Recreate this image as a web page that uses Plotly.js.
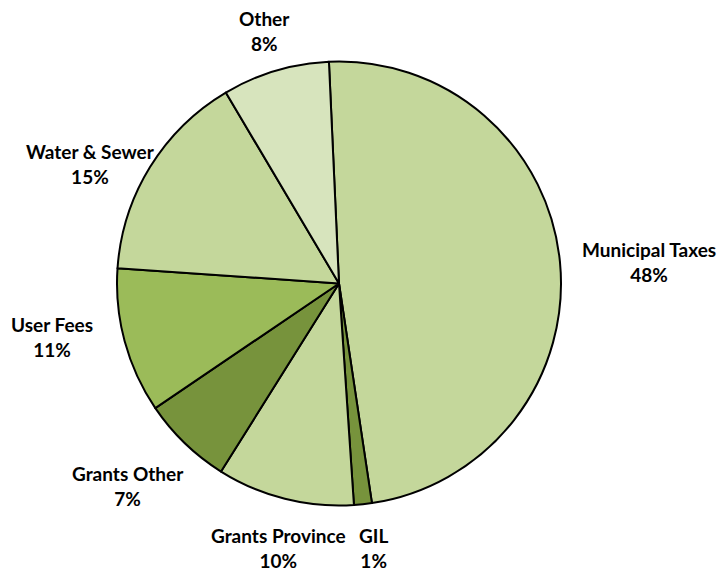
<!DOCTYPE html>
<html>
<head>
<meta charset="utf-8">
<script src="https://cdn.plot.ly/plotly-3.0.1.min.js"></script>
<style>html,body{margin:0;padding:0;background:#fff;}#chart{width:724px;height:575px;}</style>
</head>
<body>
<div id="chart"></div>
<script>
const labels = ["Municipal Taxes", "GIL", "Grants Province", "Grants Other", "User Fees", "Water & Sewer", "Other"];
const values = [48.4, 1.3, 10.0, 6.6, 10.6, 15.4, 7.8];
const colors = ["#C4D79B", "#77933C", "#C4D79B", "#77933C", "#9BBB59", "#C4D79B", "#D7E4BD"];

// label text centres in pixels (layout only)
const labelPos = [[649, 262], [374, 548], [278, 548], [128, 486], [52, 337], [90, 164], [264, 31]];

const W = 724, H = 575;
const total = values.reduce((a, b) => a + b, 0);
const annotations = labels.map((l, i) => ({
  x: labelPos[i][0] / W, y: 1 - labelPos[i][1] / H,
  xref: 'paper', yref: 'paper', xanchor: 'center', yanchor: 'middle',
  text: l + '<br>' + Math.round(values[i] / total * 100) + '%',
  showarrow: false,
  font: {family: 'Lato, "Open Sans", sans-serif', size: 19, color: '#000', weight: 'bold'}
}));

const cx = 339, cy = 283.5, r = 222;
Plotly.newPlot('chart', [{
  type: 'pie',
  labels: labels,
  values: values,
  sort: false,
  direction: 'clockwise',
  rotation: -2.6,
  marker: {colors: colors, line: {color: '#000', width: 2}},
  textinfo: 'none',
  hoverinfo: 'label+percent',
  showlegend: false,
  domain: {x: [(cx - r) / W, (cx + r) / W], y: [(H - cy - r) / H, (H - cy + r) / H]}
}], {
  width: W, height: H,
  margin: {l: 0, r: 0, t: 0, b: 0},
  paper_bgcolor: '#fff',
  showlegend: false,
  annotations: annotations
}, {displayModeBar: false, staticPlot: true});
</script>
</body>
</html>
